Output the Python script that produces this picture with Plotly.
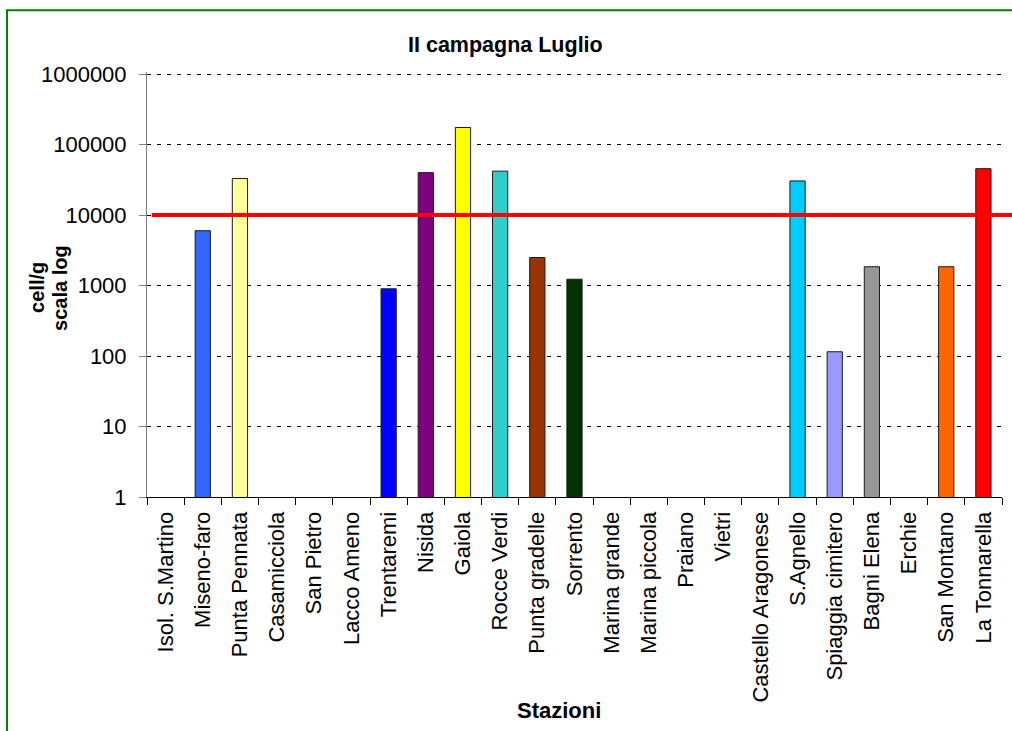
import plotly.graph_objects as go

# Stations sampled in the second campaign (July)
stazioni = [
    "Isol. S.Martino", "Miseno-faro", "Punta Pennata", "Casamicciola", "San Pietro",
    "Lacco Ameno", "Trentaremi", "Nisida", "Gaiola", "Rocce Verdi", "Punta gradelle",
    "Sorrento", "Marina grande", "Marina piccola", "Praiano", "Vietri",
    "Castello Aragonese", "S.Agnello", "Spiaggia cimitero", "Bagni Elena", "Erchie",
    "San Montano", "La Tonnarella",
]
# cell/g per station (None = not detected)
cell_g = [
    None, 6000, 33000, None, None,
    None, 900, 40000, 175000, 42000, 2500,
    1230, None, None, None, None,
    None, 30500, 115, 1850, None,
    1850, 45500,
]
bar_colors = [
    "#FFFFFF", "#3366FF", "#FFFF99", "#FFFFFF", "#FFFFFF",
    "#FFFFFF", "#0000FF", "#800080", "#FFFF00", "#33CCCC", "#993300",
    "#003300", "#FFFFFF", "#FFFFFF", "#FFFFFF", "#FFFFFF",
    "#FFFFFF", "#00CCFF", "#9999FF", "#969696", "#FFFFFF",
    "#FF6600", "#FF0000",
]
# threshold value (cell/g)
soglia = 10000
y_tickvals = [1, 10, 100, 1000, 10000, 100000, 1000000]
y_ticktext = ["1", "10", "100", "1000", "10000", "100000", "1000000"]

W, H = 1012, 731
# pixel box of the decades 10^0 .. 10^6
L, R, TOP6, B = 147, 1002, 74, 497.3
DEC = (B - TOP6) / 6.0
# small headroom above 10^6 so its gridline is still drawn
YMAX = 6.03
T = B - DEC * YMAX
FONT = "Liberation Sans, Arial, sans-serif"


def px(x):
    return (x - L) / (R - L)


def py(y):
    return (B - y) / (B - T)


fig = go.Figure(
    go.Bar(
        x=stazioni,
        y=cell_g,
        width=0.41,
        marker=dict(color=bar_colors, line=dict(color="#1a1a1a", width=1)),
        showlegend=False,
    )
)

fig.update_layout(
    width=W,
    height=H,
    autosize=False,
    margin=dict(l=L, r=W - R, t=T, b=H - B),
    paper_bgcolor="white",
    plot_bgcolor="white",
    font=dict(family=FONT, size=22, color="black"),
    xaxis=dict(
        type="category",
        tickangle=-90,
        showline=True,
        linecolor="black",
        linewidth=1,
        ticks="outside",
        tickson="boundaries",
        ticklen=7,
        tickcolor="black",
        showgrid=False,
        ticklabelstandoff=5,
        tickfont=dict(size=22),
    ),
    yaxis=dict(
        type="log",
        range=[0, YMAX],
        tickmode="array",
        tickvals=y_tickvals,
        ticktext=y_ticktext,
        showline=True,
        linecolor="#808080",
        linewidth=1,
        ticks="outside",
        ticklen=7,
        tickcolor="#808080",
        showgrid=True,
        gridcolor="black",
        gridwidth=1,
        griddash="4px,6px",
        zeroline=False,
        ticklabelstandoff=8,
        tickfont=dict(size=22),
    ),
    shapes=[
        # outer chart frame
        dict(type="rect", xref="paper", yref="paper",
             x0=px(7), x1=px(W + 4), y0=py(H + 4), y1=py(10),
             line=dict(color="#008000", width=2), layer="below"),
        # threshold line
        dict(type="line", xref="paper", yref="y",
             x0=px(151.7), x1=px(W), y0=soglia, y1=soglia,
             line=dict(color="#FF0000", width=4)),
    ],
    annotations=[
        dict(text="<b>II campagna Luglio</b>", xref="paper", yref="paper",
             x=px(505), y=py(44.5), xanchor="center", yanchor="middle",
             showarrow=False, font=dict(size=21.5)),
        dict(text="<b>Stazioni</b>", xref="paper", yref="paper",
             x=px(559), y=py(711), xanchor="center", yanchor="middle",
             showarrow=False, font=dict(size=22)),
        dict(text="<b>cell/g</b>", xref="paper", yref="paper",
             x=px(37), y=py(288), xanchor="center", yanchor="middle",
             textangle=-90, showarrow=False, font=dict(size=20)),
        dict(text="<b>scala log</b>", xref="paper", yref="paper",
             x=px(60), y=py(288), xanchor="center", yanchor="middle",
             textangle=-90, showarrow=False, font=dict(size=20)),
    ],
)

fig.write_html("out.html")
